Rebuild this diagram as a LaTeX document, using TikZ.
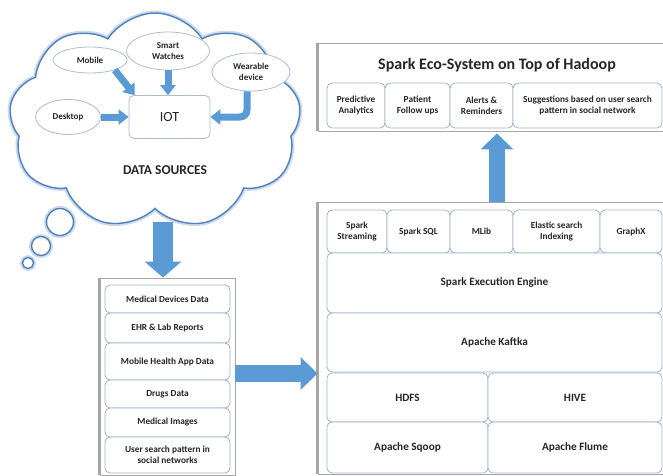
\documentclass[tikz,border=0pt]{standalone}
\usepackage{fontspec}
\setmainfont{Carlito}
\usetikzlibrary{shapes.symbols,shapes.geometric,arrows.meta,calc}
\definecolor{ablue}{HTML}{5B9BD5}
\definecolor{cblue}{HTML}{4F81BD}
\definecolor{glow}{HTML}{C9D9EE}
\definecolor{ibord}{HTML}{9FB3CC}
\definecolor{ebord}{HTML}{AEBDD0}
\definecolor{cgray}{HTML}{A6A6A6}
\definecolor{txt}{HTML}{262626}
\begin{document}
\begin{tikzpicture}[x=1pt,y=-1pt,
  item/.style={draw=ibord, line width=0.8pt, rounded corners=5pt, fill=white, text=txt,
    align=center, font=\bfseries\fontsize{9.3}{11}\selectfont, inner sep=1pt},
  bigitem/.style={item, font=\bfseries\fontsize{11.2}{13}\selectfont},
  oval/.style={ellipse, draw=ebord, line width=0.8pt, fill=white, text=txt, align=center,
    font=\bfseries\fontsize{9}{11}\selectfont, inner sep=0pt},
  container/.style={draw=cgray, line width=0.9pt, fill=white},
  cloudline/.style={draw=cblue, line width=1.4pt, fill=white, preaction={draw=glow, line width=5pt}},
  smallarrow/.style={draw=ablue, line width=7pt, -{Triangle[width=15pt,length=10pt]}},
  downarrow/.style={draw=ablue, line width=20pt, -{Triangle[width=36pt,length=16pt]}},
  rightarrow/.style={draw=ablue, line width=17pt, -{Triangle[width=32pt,length=17pt]}},
  uparrow/.style={draw=ablue, line width=16pt, -{Triangle[width=32pt,length=16pt]}},
]
\useasboundingbox (0,0) rectangle (663,475);
\fill[white] (0,0) rectangle (663,475);

% ---------- cloud ----------
\node[cloud, cloud puffs=9, cloud puff arc=115, cloud ignores aspect,
      minimum width=292pt, minimum height=216pt, cloudline] (cloud) at (155,121) {};
\node[circle, cloudline, minimum size=27pt, inner sep=0pt] (b1) at (60,222) {};
\node[circle, cloudline, minimum size=19pt, inner sep=0pt] (b2) at (41,246) {};
\node[circle, cloudline, minimum size=11pt, inner sep=0pt] (b3) at (28,263) {};

\node[oval, minimum width=74pt, minimum height=26pt] (mobile) at (90,60) {Mobile};
\node[oval, minimum width=83pt, minimum height=38pt] (smart) at (168,51) {Smart\\Watches};
\node[oval, minimum width=78pt, minimum height=38pt] (wear) at (251,72) {Wearable\\device};
\node[oval, minimum width=65pt, minimum height=35pt] (desk) at (68,117) {Desktop};
\node[draw=ebord, line width=0.8pt, rounded corners=5pt, fill=white, text=txt,
      minimum width=81pt, minimum height=43pt, font=\fontsize{14}{16}\selectfont] (iot) at (169.5,117) {IOT};
\node[text=txt, font=\bfseries\fontsize{13.5}{16}\selectfont] (ds) at (165,170) {DATA SOURCES};

\draw[smallarrow] (mobile.-22) -- ($(iot.north west)+(6,0)$);
\draw[smallarrow] (smart.south) -- (smart.south |- iot.north);
\draw[smallarrow] (desk.east) -- (iot.west);
\draw[smallarrow, rounded corners=7pt] ($(wear.south)+(-4,0)$) |- (iot.east);

% ---------- data list ----------
\node[container, minimum width=135pt, minimum height=197pt, inner sep=0pt] (list) at (167.5,376.5) {};
\draw[cgray, line width=2.5pt] (list.north west) -- (list.south west);
\node[item, minimum width=125pt, minimum height=28pt] (l1) at (167.5,299) {Medical Devices Data};
\node[item, minimum width=125pt, minimum height=30pt] (l2) at (167.5,328) {EHR \& Lab Reports};
\node[item, minimum width=125pt, minimum height=37pt] (l3) at (167.5,361.5) {Mobile Health App Data};
\node[item, minimum width=125pt, minimum height=28pt] (l4) at (167.5,394) {Drugs Data};
\node[item, minimum width=125pt, minimum height=29pt] (l5) at (167.5,422.5) {Medical Images};
\node[item, minimum width=125pt, minimum height=36pt] (l6) at (167.5,455) {User search pattern in\\social networks};

% ---------- stack ----------
\node[container, minimum width=345pt, minimum height=272pt, inner sep=0pt] (stack) at (490.5,338) {};
\draw[cgray, line width=3pt] (stack.north west) -- (stack.south west);
\node[item, minimum width=60pt, minimum height=43pt] (s1) at (357,231.5) {Spark\\Streaming};
\node[item, minimum width=63pt, minimum height=43pt] (s2) at (418.5,231.5) {Spark SQL};
\node[item, minimum width=63pt, minimum height=43pt] (s3) at (481.5,231.5) {MLib};
\node[item, minimum width=87pt, minimum height=43pt] (s4) at (556.5,231.5) {Elastic search\\Indexing};
\node[item, minimum width=62pt, minimum height=43pt] (s5) at (631,231.5) {GraphX};
\node[bigitem, minimum width=335pt, minimum height=60pt] (exec) at (494.5,283) {Spark Execution Engine};
\node[bigitem, minimum width=335pt, minimum height=59pt] (kafka) at (494.5,342.5) {Apache Kaftka};
\node[bigitem, minimum width=161pt, minimum height=49pt] (hdfs) at (407.5,397.5) {HDFS};
\node[bigitem, minimum width=174pt, minimum height=49pt] (hive) at (575,397.5) {HIVE};
\node[bigitem, minimum width=161pt, minimum height=51pt] (sqoop) at (407.5,447.5) {Apache Sqoop};
\node[bigitem, minimum width=174pt, minimum height=51pt] (flume) at (575,447.5) {Apache Flume};

% ---------- top box ----------
\node[container, minimum width=345pt, minimum height=88pt, inner sep=0pt] (top) at (490.5,87) {};
\draw[cgray, line width=3pt] (top.north west) -- (top.south west);
\node[text=txt, font=\bfseries\fontsize{16}{19}\selectfont] (title) at (497,65) {Spark Eco-System on Top of Hadoop};
\node[item, minimum width=58pt, minimum height=45pt] (t1) at (356,105.5) {Predictive\\Analytics};
\node[item, minimum width=65pt, minimum height=45pt] (t2) at (417.5,105.5) {Patient\\Follow ups};
\node[item, minimum width=63pt, minimum height=45pt] (t3) at (481.5,105.5) {Alerts \&\\Reminders};
\node[item, minimum width=149pt, minimum height=45pt] (t4) at (587.5,105.5) {Suggestions based on user search\\pattern in social network};

% ---------- big arrows ----------
\coordinate (dx) at (163,222);
\coordinate (ry) at (0,373.5);
\coordinate (ux) at (497,0);
\draw[downarrow] (dx) -- (dx |- list.north);
\draw[rightarrow] (list.east |- ry) -- (stack.west |- ry);
\draw[uparrow] (stack.north -| ux) -- ($(top.south -| ux)+(0,2)$);
\end{tikzpicture}
\end{document}
